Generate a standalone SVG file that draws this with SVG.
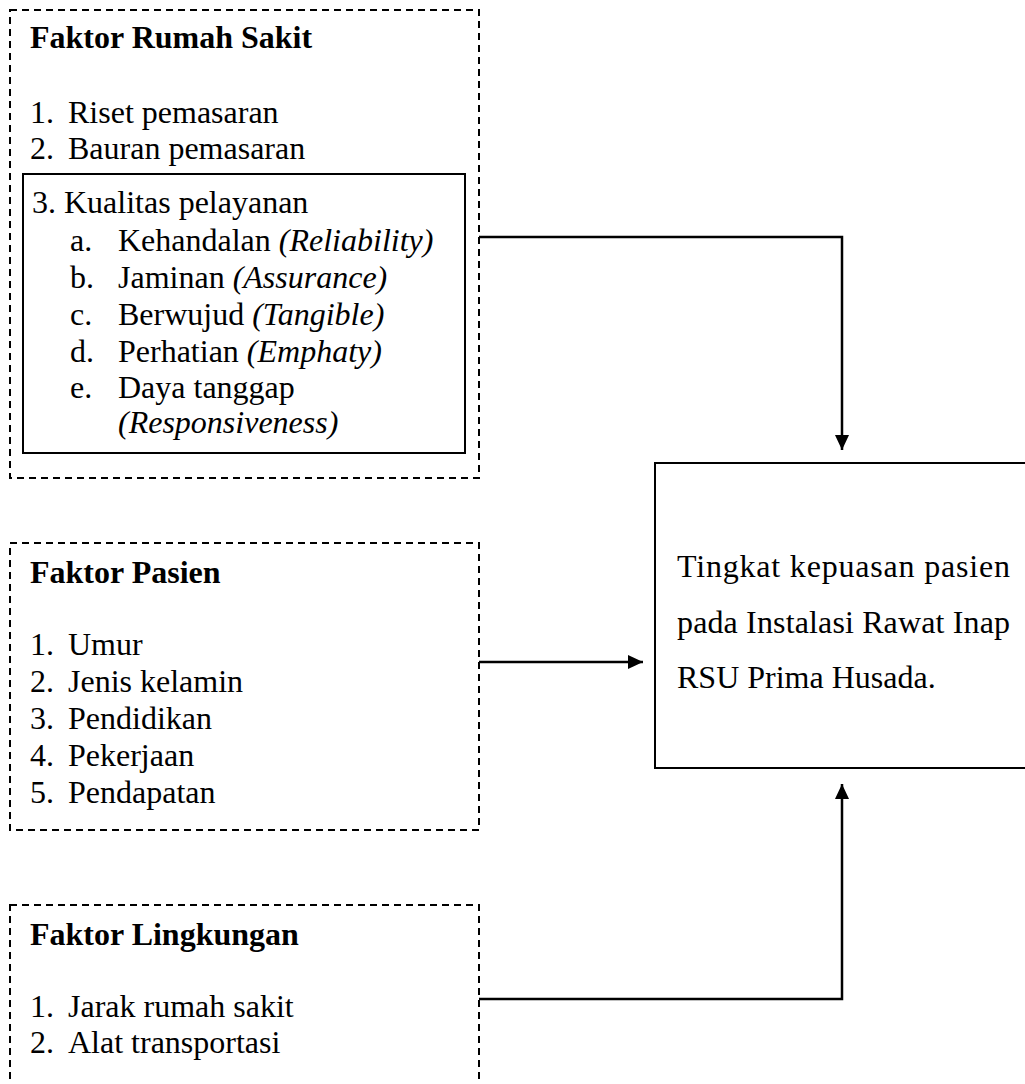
<svg xmlns="http://www.w3.org/2000/svg" width="1025" height="1084" viewBox="0 0 1025 1084">
<style>
  text { font-family: "Liberation Serif", "Times New Roman", serif; font-size: 32px; fill: #000; }
  .b { font-weight: bold; }
  .i { font-style: italic; }
  .dash { fill: none; stroke: #000; stroke-width: 2; stroke-dasharray: 7 5; }
  .solid { fill: none; stroke: #000; stroke-width: 2; }
  .conn { fill: none; stroke: #000; stroke-width: 2.5; }
</style>
<defs>
  <marker id="arr" markerUnits="userSpaceOnUse" markerWidth="16" markerHeight="16" refX="15" refY="7" orient="auto">
    <polygon points="0,0 15,7 0,14" fill="#000"/>
  </marker>
</defs>
<rect width="1025" height="1084" fill="#fff"/>

<g id="faktor-rumah-sakit">
  <rect class="dash" x="10" y="10" width="469" height="468"/>
  <text class="b" x="30" y="48">Faktor Rumah Sakit</text>
  <text x="30" y="123">1.</text><text x="68" y="123">Riset pemasaran</text>
  <text x="30" y="159">2.</text><text x="68" y="159">Bauran pemasaran</text>
  <g id="kualitas-pelayanan">
    <rect class="solid" x="23" y="174" width="442" height="279"/>
    <text x="32" y="213">3. Kualitas pelayanan</text>
    <text x="70" y="251">a.</text><text x="118" y="251">Kehandalan <tspan class="i">(Reliability)</tspan></text>
    <text x="70" y="288">b.</text><text x="118" y="288">Jaminan <tspan class="i">(Assurance)</tspan></text>
    <text x="70" y="325">c.</text><text x="118" y="325">Berwujud <tspan class="i">(Tangible)</tspan></text>
    <text x="70" y="362">d.</text><text x="118" y="362">Perhatian <tspan class="i">(Emphaty)</tspan></text>
    <text x="70" y="398">e.</text><text x="118" y="398">Daya tanggap</text>
    <text class="i" x="118" y="433">(Responsiveness)</text>
  </g>
</g>

<g id="faktor-pasien">
  <rect class="dash" x="10" y="543" width="469" height="287"/>
  <text class="b" x="30" y="583">Faktor Pasien</text>
  <text x="30" y="655">1.</text><text x="68" y="655">Umur</text>
  <text x="30" y="692">2.</text><text x="68" y="692">Jenis kelamin</text>
  <text x="30" y="729">3.</text><text x="68" y="729">Pendidikan</text>
  <text x="30" y="766">4.</text><text x="68" y="766">Pekerjaan</text>
  <text x="30" y="803">5.</text><text x="68" y="803">Pendapatan</text>
</g>

<g id="faktor-lingkungan">
  <rect class="dash" x="10" y="905" width="469" height="200"/>
  <text class="b" x="30" y="945">Faktor Lingkungan</text>
  <text x="30" y="1017">1.</text><text x="68" y="1017">Jarak rumah sakit</text>
  <text x="30" y="1053">2.</text><text x="68" y="1053">Alat transportasi</text>
</g>

<g id="tingkat-kepuasan">
  <rect class="solid" x="655" y="463" width="420" height="305"/>
  <text x="677" y="577" textLength="333" lengthAdjust="spacing">Tingkat kepuasan pasien</text>
  <text x="677" y="633" textLength="333" lengthAdjust="spacing">pada Instalasi Rawat Inap</text>
  <text x="677" y="688">RSU Prima Husada.</text>
</g>

<g id="connectors">
  <polyline class="conn" points="479,237 842,237 842,450" marker-end="url(#arr)"/>
  <polyline class="conn" points="479,662 643,662" marker-end="url(#arr)"/>
  <polyline class="conn" points="479,999 842,999 842,784" marker-end="url(#arr)"/>
</g>
</svg>
